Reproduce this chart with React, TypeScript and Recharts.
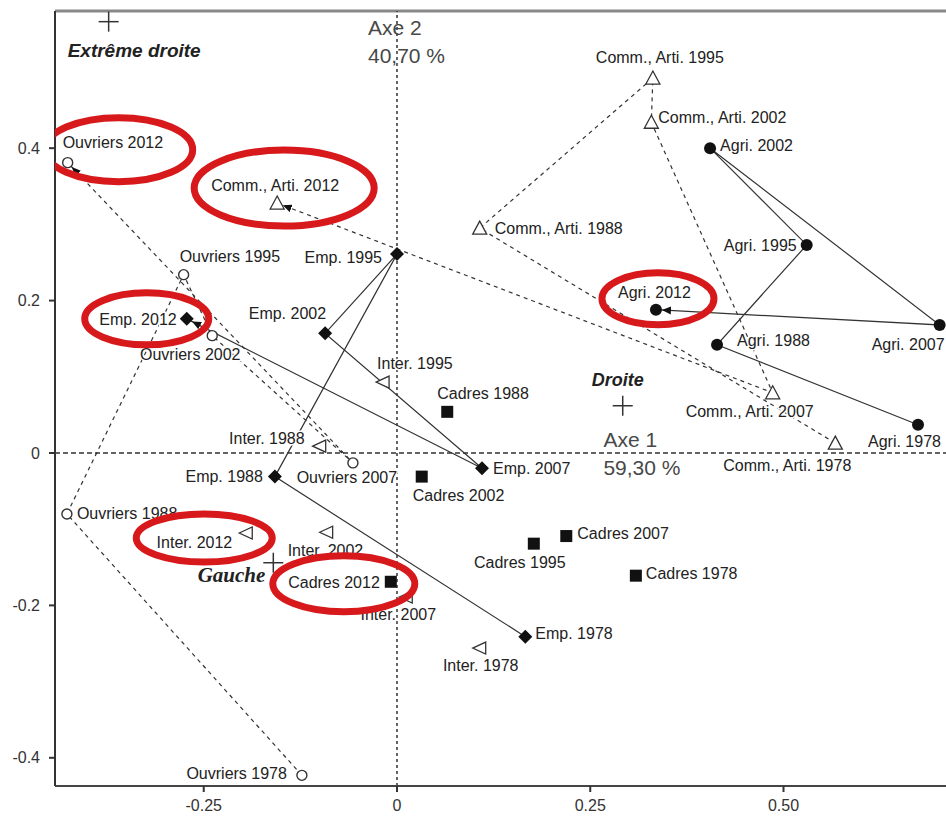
import React from "react";
import {
  ScatterChart,
  Scatter,
  XAxis,
  YAxis,
  ReferenceLine,
  ReferenceDot,
} from "recharts";

// Factor map (axes 1 & 2) — trajectories of occupational groups, 1978 → 2012.

const YEARS = [1978, 1988, 1995, 2002, 2007, 2012];

const AGRI_X = [0.674, 0.414, 0.53, 0.405, 0.702, 0.335];
const AGRI_Y = [0.037, 0.142, 0.273, 0.4, 0.168, 0.188];

const EMP_X = [0.166, -0.158, 0.0, -0.093, 0.11, -0.272];
const EMP_Y = [-0.241, -0.031, 0.261, 0.157, -0.02, 0.176];

const CADRES_X = [0.309, 0.065, 0.177, 0.032, 0.219, -0.008];
const CADRES_Y = [-0.161, 0.054, -0.119, -0.031, -0.109, -0.169];

const INTER_X = [0.107, -0.1, -0.018, -0.091, 0.012, -0.195];
const INTER_Y = [-0.256, 0.009, 0.093, -0.104, -0.189, -0.105];

const OUVRIERS_X = [-0.123, -0.427, -0.276, -0.239, -0.057, -0.426];
const OUVRIERS_Y = [-0.423, -0.08, 0.234, 0.154, -0.013, 0.381];

const COMM_X = [0.567, 0.107, 0.331, 0.329, 0.486, -0.155];
const COMM_Y = [0.013, 0.295, 0.492, 0.434, 0.079, 0.328];

// political poles (supplementary points)
const POLE_NAMES = ["Extrême droite", "Droite", "Gauche"];
const POLE_X = [-0.373, 0.292, -0.16];
const POLE_Y = [0.566, 0.062, -0.144];

const X_TICKS = [-0.25, 0, 0.25, 0.5];
const Y_TICKS = [-0.4, -0.2, 0, 0.2, 0.4];
const X_MIN = -0.4424;
const X_MAX = 0.7102;
const Y_MIN = -0.437;
const Y_MAX = 0.58;

const AXIS1 = ["Axe 1", "59,30 %"];
const AXIS2 = ["Axe 2", "40,70 %"];
const AXIS1_AT = 0.267;

const FONT = "'Liberation Sans', Arial, sans-serif";
const INK = "#222";

type Marker = "dot" | "diamond" | "square" | "triLeft" | "ring" | "triUp";

const GROUPS: {
  key: string;
  prefix: string;
  xs: number[];
  ys: number[];
  marker: Marker;
  line: "solid" | "dashed" | null;
}[] = [
  { key: "ouv", prefix: "Ouvriers", xs: OUVRIERS_X, ys: OUVRIERS_Y, marker: "ring", line: "dashed" },
  { key: "comm", prefix: "Comm., Arti.", xs: COMM_X, ys: COMM_Y, marker: "triUp", line: "dashed" },
  { key: "emp", prefix: "Emp.", xs: EMP_X, ys: EMP_Y, marker: "diamond", line: "solid" },
  { key: "agri", prefix: "Agri.", xs: AGRI_X, ys: AGRI_Y, marker: "dot", line: "solid" },
  { key: "cad", prefix: "Cadres", xs: CADRES_X, ys: CADRES_Y, marker: "square", line: null },
  { key: "int", prefix: "Inter.", xs: INTER_X, ys: INTER_Y, marker: "triLeft", line: null },
];

// label placement around each point: [anchor, dx, dy] (pixels)
type Anchor = "start" | "middle" | "end";
const LABEL_POS: Record<string, [Anchor, number, number][]> = {
  agri: [["start", -50, 17], ["start", 20, -4], ["end", -10, 1], ["start", 10, -3], ["start", -68, 20], ["start", -38, -17]],
  emp: [["start", 10, -3], ["end", -12, 0], ["end", -15, 3], ["end", 1, -20], ["start", 11, 0], ["end", -10, 1]],
  cad: [["start", 10, -2], ["start", -10, -18], ["middle", -14, 19], ["start", -9, 19], ["start", 11, -3], ["end", -11, 1]],
  int: [["middle", 1, 17], ["end", -15, -8], ["start", -6, -19], ["start", -39, 18], ["middle", -8, 17], ["end", -14, 9]],
  ouv: [["end", -15, -2], ["start", 10, 0], ["start", -4, -18], ["middle", -22, 19], ["middle", -6, 15], ["start", -5, -20]],
  comm: [["middle", -48, 22], ["start", 15, 0], ["middle", 7, -21], ["start", 7, -5], ["middle", -23, 19], ["middle", -2, -18]],
};

// red highlight around the 2012 points: [dx, dy, rx, ry]
const HIGHLIGHT: Record<string, [number, number, number, number]> = {
  ouv: [51, -13, 74, 32],
  comm: [7, -15, 90, 38],
  emp: [-40, 0, 62, 26],
  agri: [2, -11, 56, 26],
  int: [-42, 5, 68, 24],
  cad: [-47, 2, 71, 28],
};

const POLE_STYLE: { anchor: Anchor; dx: number; dy: number; font: string; size: number }[] = [
  { anchor: "start", dx: -41, dy: 35, font: FONT, size: 19 },
  { anchor: "start", dx: -31, dy: -20, font: FONT, size: 18 },
  { anchor: "end", dx: -8, dy: 19, font: "'Liberation Serif', 'Times New Roman', serif", size: 21 },
];

const dataFor = (g: (typeof GROUPS)[number]) =>
  YEARS.map((year, i) => ({ x: g.xs[i], y: g.ys[i], year, idx: i, group: g.key, name: `${g.prefix} ${year}` }));

const poleData = POLE_NAMES.map((name, i) => ({ x: POLE_X[i], y: POLE_Y[i], idx: i, name }));

function drawMarker(m: Marker, cx: number, cy: number) {
  switch (m) {
    case "dot":
      return <circle cx={cx} cy={cy} r={6} fill="#111" />;
    case "diamond":
      return <polygon points={`${cx},${cy - 7} ${cx + 7},${cy} ${cx},${cy + 7} ${cx - 7},${cy}`} fill="#111" />;
    case "square":
      return <rect x={cx - 6} y={cy - 6} width={12} height={12} fill="#111" />;
    case "triLeft":
      return (
        <polygon
          points={`${cx - 7},${cy} ${cx + 6},${cy - 6} ${cx + 6},${cy + 6}`}
          fill="#fff"
          stroke="#333"
          strokeWidth={1.3}
        />
      );
    case "ring":
      return <circle cx={cx} cy={cy} r={5} fill="#fff" stroke="#333" strokeWidth={1.4} />;
    case "triUp":
      return (
        <polygon
          points={`${cx},${cy - 7} ${cx + 7},${cy + 6} ${cx - 7},${cy + 6}`}
          fill="#fff"
          stroke="#333"
          strokeWidth={1.3}
        />
      );
  }
}

function makePointShape(marker: Marker) {
  return (props: any) => {
    const { cx, cy, payload } = props;
    const [anchor, dx, dy] = LABEL_POS[payload.group][payload.idx];
    return (
      <g>
        {drawMarker(marker, cx, cy)}
        <text
          x={cx + dx}
          y={cy + dy}
          textAnchor={anchor}
          dominantBaseline="central"
          fontFamily={FONT}
          fontSize={16}
          fill={INK}
          stroke="#fff"
          strokeWidth={3}
          paintOrder="stroke"
        >
          {payload.name}
        </text>
      </g>
    );
  };
}

const NoShape = () => <g />;

function PoleShape(props: any) {
  const { cx, cy, payload } = props;
  const s = POLE_STYLE[payload.idx];
  return (
    <g>
      <line x1={cx - 10} y1={cy} x2={cx + 10} y2={cy} stroke="#333" strokeWidth={1.5} />
      <line x1={cx} y1={cy - 10} x2={cx} y2={cy + 10} stroke="#333" strokeWidth={1.5} />
      <text
        x={cx + s.dx}
        y={cy + s.dy}
        textAnchor={s.anchor}
        fontFamily={s.font}
        fontSize={s.size}
        fontWeight="bold"
        fontStyle="italic"
        fill={INK}
      >
        {payload.name}
      </text>
    </g>
  );
}

function HighlightShape(props: any) {
  const { cx, cy, payload } = props;
  const [dx, dy, rx, ry] = HIGHLIGHT[payload.group];
  return <ellipse cx={cx + dx} cy={cy + dy} rx={rx} ry={ry} fill="none" stroke="#d7191c" strokeWidth={7} />;
}

const axisNote = (lines: string[], dx: number, dy: number) => (props: any) => {
  const { cx, cy } = props;
  return (
    <g>
      {lines.map((t, i) => (
        <text key={t} x={cx + dx} y={cy + dy + i * 28} fontFamily={FONT} fontSize={21} fill="#484848">
          {t}
        </text>
      ))}
    </g>
  );
};

export default function App() {
  const highlightData = GROUPS.map((g) => dataFor(g)[5]);
  return (
    <div style={{ position: "absolute", left: 0, top: 0, background: "#fff" }}>
      <ScatterChart width={946} height={818} margin={{ top: 11, right: 0, bottom: 0, left: 0 }}>
        <defs>
          <marker
            id="arrowHead"
            viewBox="0 0 10 8"
            markerWidth={10}
            markerHeight={8}
            refX={15}
            refY={4}
            orient="auto"
            markerUnits="userSpaceOnUse"
          >
            <path d="M0,0 L9,4 L0,8 z" fill="#111" />
          </marker>
        </defs>
        <XAxis
          type="number"
          dataKey="x"
          domain={[X_MIN, X_MAX]}
          ticks={X_TICKS}
          allowDataOverflow
          height={32}
          axisLine={{ stroke: "#444", strokeWidth: 2 }}
          tickLine={{ stroke: "#333", strokeWidth: 2 }}
          tickSize={6}
          tickMargin={8}
          tick={{ fill: "#333", fontSize: 16, fontFamily: FONT }}
          tickFormatter={(v: number) => (v === 0 ? "0" : v.toFixed(2))}
        />
        <YAxis
          type="number"
          dataKey="y"
          domain={[Y_MIN, Y_MAX]}
          ticks={Y_TICKS}
          allowDataOverflow
          width={55}
          axisLine={{ stroke: "#333", strokeWidth: 2 }}
          tickLine={{ stroke: "#333", strokeWidth: 2 }}
          tickSize={6}
          tickMargin={9}
          tick={{ fill: "#333", fontSize: 16, fontFamily: FONT }}
          tickFormatter={(v: number) => (v === 0 ? "0" : v.toFixed(1))}
        />
        <ReferenceLine y={Y_MAX} stroke="#888" strokeWidth={3} />
        <ReferenceLine x={0} stroke="#333" strokeWidth={1.5} strokeDasharray="3 3" />
        <ReferenceLine y={0} stroke="#333" strokeWidth={1.5} strokeDasharray="5 3" />

        {GROUPS.filter((g) => g.line).map((g) => (
          <Scatter
            key={`line-${g.key}`}
            data={dataFor(g)}
            shape={NoShape}
            line={{
              stroke: "#333",
              strokeWidth: 1.2,
              strokeDasharray: g.line === "dashed" ? "4 4" : undefined,
              markerEnd: "url(#arrowHead)",
            }}
            lineType="joint"
            isAnimationActive={false}
          />
        ))}

        {GROUPS.map((g) => (
          <Scatter
            key={`pts-${g.key}`}
            data={dataFor(g)}
            shape={makePointShape(g.marker)}
            isAnimationActive={false}
          />
        ))}

        <Scatter data={poleData} shape={PoleShape} isAnimationActive={false} />

        <ReferenceDot x={0} y={Y_MAX} r={0} shape={axisNote(AXIS2, -29, 24)} />
        <ReferenceDot x={AXIS1_AT} y={0} r={0} shape={axisNote(AXIS1, 0, -6)} />

        <Scatter data={highlightData} shape={HighlightShape} isAnimationActive={false} />
      </ScatterChart>
    </div>
  );
}
